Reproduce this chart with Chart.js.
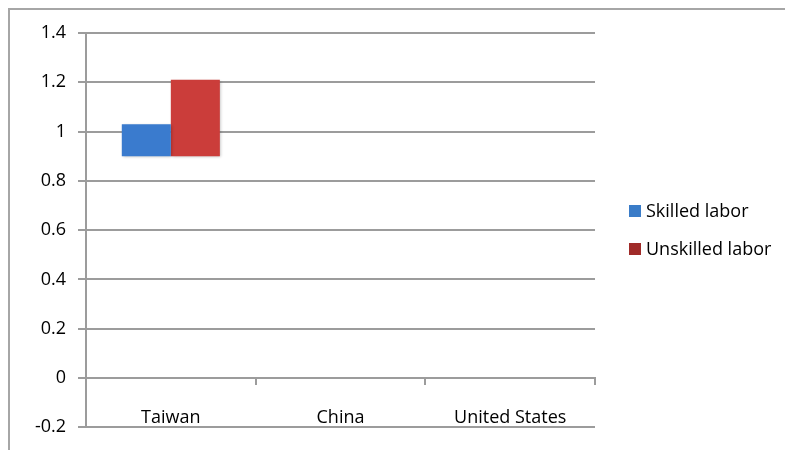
<!DOCTYPE html>
<html>
<head>
<meta charset="utf-8">
<script src="https://cdn.jsdelivr.net/npm/chart.js@4/dist/chart.umd.min.js"></script>
<style>
  html, body { margin: 0; padding: 0; background: #fff; overflow: hidden; }
  #frame {
    position: absolute; left: 8px; top: 8px; width: 900px; height: 600px;
    border-top: 2px solid #a6a6a6; border-left: 2px solid #a6a6a6;
  }
  #wrap { position: absolute; left: 0; top: 0; width: 785px; height: 450px; }
</style>
</head>
<body>
<div id="frame"></div>
<div id="wrap"><canvas id="chart" width="785" height="450"></canvas></div>
<script>
const countries = ['Taiwan', 'China', 'United States'];
const seriesNames = ['Skilled labor', 'Unskilled labor'];
const barBase = 0.9;
const skilled = [1.03, null, null];
const unskilled = [1.21, null, null];
const yTickLabels = ['-0.2', '0', '0.2', '0.4', '0.6', '0.8', '1', '1.2', '1.4'];

const barColors = ['#3a7bce', '#cb3d3a'];
const keyColors = ['#3a7cc8', '#a02b29'];
const gridColor = '#9c9c9c';

Chart.defaults.font.family = "'Open Sans', sans-serif";
Chart.defaults.font.size = 18;
Chart.defaults.color = '#000';

function floating(values){
  return values.map(v => v === null ? null : [barBase, v]);
}

// soft drop shadow under the bars
const barShadow = {
  id: 'barShadow',
  beforeDatasetsDraw(chart){
    const c = chart.ctx;
    c.save();
    c.shadowColor = 'rgba(0,0,0,0.28)';
    c.shadowBlur = 3;
    c.shadowOffsetX = 1;
    c.shadowOffsetY = 1;
  },
  afterDatasetsDraw(chart){
    chart.ctx.restore();
  }
};

// legend to the right of the plot, squares + labels
const sideLegend = {
  id: 'sideLegend',
  afterDraw(chart){
    const c = chart.ctx;
    const area = chart.chartArea;
    const x = area.right + 34;
    const gap = 38;
    const n = chart.data.datasets.length;
    const midY = (area.top + area.bottom) / 2;
    c.save();
    c.font = "18px 'Open Sans', sans-serif";
    c.textBaseline = 'middle';
    chart.data.datasets.forEach((ds, i) => {
      const y = midY + (i - (n - 1) / 2) * gap;
      c.fillStyle = keyColors[i];
      c.fillRect(x, Math.round(y) - 6, 12, 12);
      c.fillStyle = '#000';
      c.fillText(ds.label, x + 17, y + 1);
    });
    c.restore();
  }
};

const ctx = document.getElementById('chart').getContext('2d');
new Chart(ctx, {
  type: 'bar',
  data: {
    labels: countries,
    datasets: [
      { label: seriesNames[0], data: floating(skilled), backgroundColor: barColors[0] },
      { label: seriesNames[1], data: floating(unskilled), backgroundColor: barColors[1] }
    ]
  },
  options: {
    responsive: false,
    animation: false,
    categoryPercentage: 0.578,
    barPercentage: 1,
    layout: { padding: { left: 0, top: 33, right: 190, bottom: 17 } },
    plugins: {
      legend: { display: false },
      tooltip: { enabled: false }
    },
    scales: {
      x: {
        position: { y: 0 },
        offset: true,
        grid: { offset: true, drawOnChartArea: false, drawTicks: true, tickLength: 6, color: gridColor, lineWidth: 2 },
        border: { display: true, color: gridColor, width: 2 },
        ticks: { padding: 23, maxRotation: 0 },
        afterFit(s){ s.height = 0; }
      },
      y: {
        min: -0.2,
        max: 1.4,
        ticks: {
          stepSize: 0.2,
          padding: 12,
          callback: (v, i) => yTickLabels[i] ?? String(Math.round(v * 10) / 10)
        },
        grid: { color: gridColor, lineWidth: 2, tickLength: 8 },
        border: { color: gridColor, width: 2 },
        afterFit(s){ s.width = 86; }
      }
    }
  },
  plugins: [barShadow, sideLegend]
});
</script>
</body>
</html>
